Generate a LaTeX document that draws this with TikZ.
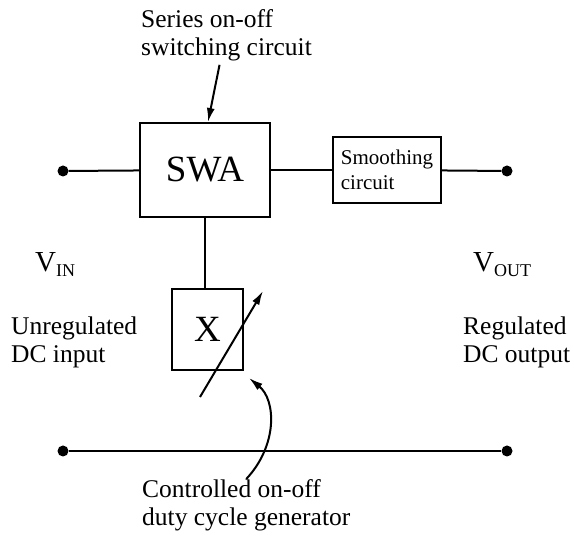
\documentclass[tikz,border=0pt]{standalone}
\usepackage{fontspec}
\setmainfont{Liberation Serif}
\usetikzlibrary{arrows.meta,positioning,calc}

\newcommand{\txt}{\fontsize{25.5}{28}\selectfont}
\newcommand{\bigtxt}{\fontsize{37}{40}\selectfont}
\newcommand{\smalltxt}{\fontsize{21}{25}\selectfont}
\newcommand{\volt}[1]{{\fontsize{29}{30}\selectfont V}{\fontsize{18}{20}\selectfont\raisebox{-5pt}{#1}}}

\tikzset{
  wire/.style={line width=2pt},
  arr/.style={line width=2pt,-{Latex[length=14pt,width=8pt]}},
  blk/.style={draw,line width=2pt,inner sep=0pt},
  term/.style={circle,fill,inner sep=0pt,minimum size=11pt},
  lbl/.style={inner sep=0pt,align=left,font=\txt}
}

\begin{document}
\begin{tikzpicture}[x=1pt,y=-1pt]
\useasboundingbox (0,0) rectangle (574,537);
% terminals
\node[term] (inT) at (63,171) {};
\node[term] (outT) at (507,171) {};
\node[term] (inB) at (63,451) {};
\node[term] (outB) at (507,451) {};
% blocks
\node[blk,minimum width=130pt,minimum height=94pt,font=\bigtxt] (swa) at (205,170) {SWA};
\node[blk,minimum width=108pt,minimum height=66pt,font=\smalltxt,align=left] (smooth) at (387,170) {Smoothing\\circuit};
\node[blk,minimum width=71pt,minimum height=81pt,font=\bigtxt] (xbox) at (207.5,329.5) {X};
% wiring
\draw[wire] (inT) -- (swa);
\draw[wire] (swa) -- (smooth);
\draw[wire] (smooth) -- (outT);
\draw[wire] (swa.south) -- (swa.south |- xbox.north);
\draw[wire] (inB) -- (outB);
% variable arrow through X
\coordinate (xa) at (200,397);
\coordinate (xb) at (263,291);
\draw[arr] (xa) -- (xb);
% labels
\node[lbl,anchor=north west] (series) at (141,9) {Series on-off\\switching circuit};
\draw[arr] ([xshift=-7pt,yshift=-4pt]series.south) -- ([xshift=3pt]swa.north);
\node[lbl,anchor=base west] (vin) at (35,272) {\volt{IN}};
\node[lbl,anchor=north west] (unreg) at (11,317) {Unregulated\\DC input};
\node[lbl,anchor=base west] (vout) at (473,272) {\volt{OUT}};
\node[lbl,anchor=north west] (reg) at (463,317) {Regulated\\DC output};
\node[lbl,anchor=north west] (ctrl) at (142,479) {Controlled on-off\\duty cycle generator};
\coordinate (ctip) at (249,378);
\draw[arr] (ctrl.north) .. controls (278,445) and (276,400) .. (ctip);
\end{tikzpicture}
\end{document}
